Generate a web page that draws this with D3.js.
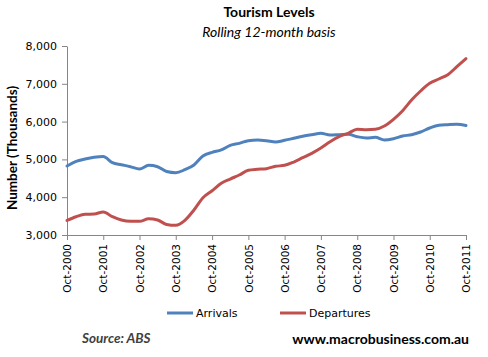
<!DOCTYPE html>
<html>
<head>
<meta charset="utf-8">
<script src="https://cdn.jsdelivr.net/npm/d3@7"></script>
<style>
  html, body { margin: 0; padding: 0; background: #fff; }
  svg { display: block; }
</style>
</head>
<body>
<div id="chart"></div>
<script>
// ---- Data (thousands, quarterly readings, Oct-2000 .. Oct-2011) ----
const startDate = "2000-10-01";
const arrivals = [
  4825, 4950, 5010, 5055, 5075, 4913, 4860, 4807, 4745, 4843, 4807, 4680, 4648,
  4728, 4852, 5090, 5187, 5250, 5373, 5425, 5495, 5513, 5495, 5460, 5505,
  5558, 5611, 5653, 5690, 5645, 5653, 5663, 5600, 5566, 5585, 5513, 5548,
  5619, 5653, 5725, 5830, 5902, 5918, 5928, 5895
];
const departures = [
  3388, 3484, 3548, 3556, 3608, 3484, 3397, 3362, 3362, 3431, 3397, 3280, 3256,
  3388, 3661, 3987, 4172, 4368, 4481, 4587, 4711, 4738, 4755, 4817, 4843,
  4931, 5045, 5161, 5302, 5468, 5600, 5690, 5796, 5785, 5796, 5884, 6061,
  6288, 6571, 6810, 7013, 7127, 7241, 7452, 7665
];
const yTicks = [3000, 4000, 5000, 6000, 7000, 8000];
const seriesNames = ["Arrivals", "Departures"];
const seriesColors = ["#4F81BD", "#C0504D"];
const titleText = "Tourism Levels";
const subtitleText = "Rolling 12-month basis";
const yTitle = "Number (Thousands)";
const sourceText = "Source: ABS";
const siteText = "www.macrobusiness.com.au";

// ---- Layout ----
const W = 488, H = 357;
const m = { left: 67, top: 46, right: 22, bottom: 122 };
const iw = W - m.left - m.right, ih = H - m.top - m.bottom;

const parse = d3.timeParse("%Y-%m-%d");
const d0 = parse(startDate);
const dates = arrivals.map((_, i) => d3.timeMonth.offset(d0, i * 3));

const x = d3.scaleTime().domain([d0, dates[dates.length - 1]]).range([0, iw]);
const y = d3.scaleLinear().domain([3000, 8000]).range([ih, 0]);

const svg = d3.select("#chart").append("svg").attr("width", W).attr("height", H);
const g = svg.append("g").attr("transform", `translate(${m.left},${m.top})`);

const axisColor = "#868686";
const tickFont = "DejaVu Sans, Verdana, sans-serif";
const labelFont = "Lato, Carlito, Calibri, sans-serif";

// Y axis
const yAxis = g.append("g").call(d3.axisLeft(y).tickValues(yTicks).tickFormat(d3.format(",")).tickSize(5).tickSizeOuter(0));
yAxis.select(".domain").attr("stroke", axisColor);
yAxis.selectAll(".tick line").attr("stroke", axisColor);
yAxis.selectAll(".tick text").attr("font-family", tickFont).attr("font-size", 11).attr("fill", "#000").attr("x", -10);

// X axis
const xTicks = d3.range(0, 12).map(k => d3.timeYear.offset(d0, k));
const xAxis = g.append("g").attr("transform", `translate(0,${ih})`)
  .call(d3.axisBottom(x).tickValues(xTicks).tickFormat(d3.timeFormat("%b-%Y")).tickSize(5).tickSizeOuter(0));
xAxis.select(".domain").attr("stroke", axisColor);
xAxis.selectAll(".tick line").attr("stroke", axisColor);
xAxis.selectAll(".tick text")
  .attr("font-family", tickFont).attr("font-size", 10.5).attr("fill", "#000")
  .attr("transform", "rotate(-90)")
  .attr("text-anchor", "end")
  .attr("x", -9).attr("y", 0).attr("dy", "0.35em");

// Lines
const line = d3.line().x((d, i) => x(dates[i])).y(d => y(d)).curve(d3.curveMonotoneX);
[arrivals, departures].forEach((s, k) => {
  g.append("path").datum(s).attr("d", line)
    .attr("fill", "none").attr("stroke", seriesColors[k])
    .attr("stroke-width", 3).attr("stroke-linejoin", "round").attr("stroke-linecap", "round");
});

// Titles
svg.append("text").attr("x", 269).attr("y", 17).attr("text-anchor", "middle")
  .attr("font-family", labelFont).attr("font-weight", "bold").attr("font-size", 14).text(titleText);
svg.append("text").attr("x", 269).attr("y", 37).attr("text-anchor", "middle")
  .attr("font-family", labelFont).attr("font-style", "italic").attr("font-size", 14).text(subtitleText);

// Y title
svg.append("text").attr("transform", "translate(17,148) rotate(-90)").attr("text-anchor", "middle")
  .attr("font-family", labelFont).attr("font-weight", "bold").attr("font-size", 13.5).text(yTitle);

// Legend
const legX = [167, 280];
seriesNames.forEach((n, k) => {
  svg.append("line").attr("x1", legX[k]).attr("x2", legX[k] + 26).attr("y1", 313).attr("y2", 313)
    .attr("stroke", seriesColors[k]).attr("stroke-width", 3);
  svg.append("text").attr("x", legX[k] + 29).attr("y", 313).attr("dy", "0.35em")
    .attr("font-family", tickFont).attr("font-size", 11).text(n);
});

// Footer
svg.append("text").attr("x", 82).attr("y", 343)
  .attr("font-family", labelFont).attr("font-weight", "bold").attr("font-style", "italic")
  .attr("font-size", 13.5).attr("fill", "#404040").text(sourceText);
svg.append("text").attr("x", 469).attr("y", 344).attr("text-anchor", "end")
  .attr("font-family", labelFont).attr("font-weight", "bold")
  .attr("font-size", 14).attr("fill", "#000").text(siteText);
</script>
</body>
</html>
